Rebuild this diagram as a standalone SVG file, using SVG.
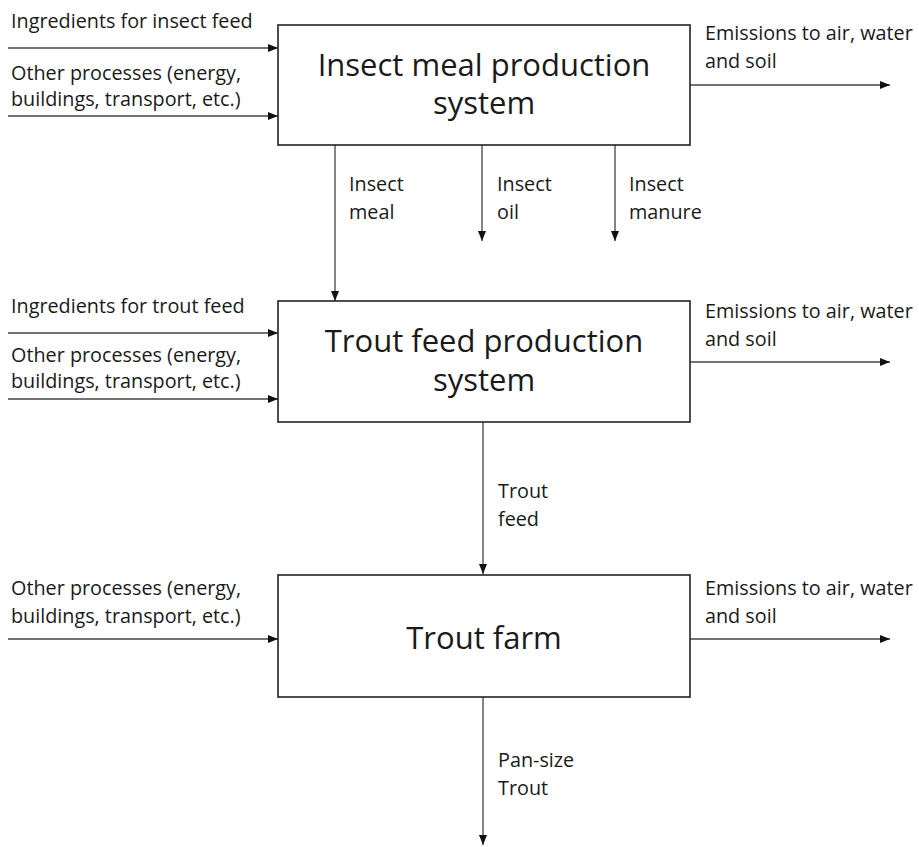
<svg xmlns="http://www.w3.org/2000/svg" width="919" height="847" viewBox="0 0 919 847">
<defs>
<marker id="ah" viewBox="0 0 10 8" refX="10" refY="4" markerWidth="10" markerHeight="8" markerUnits="userSpaceOnUse" orient="auto">
<path d="M0,0 L10,4 L0,8 Z" fill="#111"/>
</marker>
<style>
text{font-family:"Open Sans","Liberation Sans",sans-serif;fill:#1a1a1a}
.s{font-size:19.8px}
.t{font-size:31px;text-anchor:middle}
.box{fill:#fff;stroke:#222;stroke-width:1.6}
.c line{stroke:#444;stroke-width:1.3;marker-end:url(#ah)}
</style>
</defs>
<rect width="919" height="847" fill="#fff"/>
<g class="c" id="connectors">
<line x1="8" y1="48" x2="278" y2="48"/>
<line x1="8" y1="116" x2="278" y2="116"/>
<line x1="690" y1="85" x2="890" y2="85"/>
<line x1="335" y1="145" x2="335" y2="301"/>
<line x1="482" y1="145" x2="482" y2="241"/>
<line x1="615" y1="145" x2="615" y2="241"/>
<line x1="8" y1="333" x2="278" y2="333"/>
<line x1="8" y1="399" x2="278" y2="399"/>
<line x1="690" y1="362" x2="890" y2="362"/>
<line x1="483" y1="422" x2="483" y2="574"/>
<line x1="8" y1="639" x2="278" y2="639"/>
<line x1="690" y1="639" x2="890" y2="639"/>
<line x1="483" y1="697" x2="483" y2="845"/>
</g>
<g id="insect-meal-system">
<rect class="box" x="278" y="25" width="412" height="120"/>
<text class="t" x="484" y="76">Insect meal production</text>
<text class="t" x="484" y="114">system</text>
</g>
<g id="trout-feed-system">
<rect class="box" x="278" y="301" width="412" height="121"/>
<text class="t" x="484" y="352">Trout feed production</text>
<text class="t" x="484" y="391">system</text>
</g>
<g id="trout-farm">
<rect class="box" x="278" y="575" width="412" height="122"/>
<text class="t" x="484" y="649">Trout farm</text>
</g>
<g id="labels">
<text class="s" x="11" y="28">Ingredients for insect feed</text>
<text class="s" x="11" y="80">Other processes (energy,</text>
<text class="s" x="11" y="106">buildings, transport, etc.)</text>
<text class="s" x="705" y="40">Emissions to air, water</text>
<text class="s" x="705" y="68">and soil</text>
<text class="s" x="349" y="191">Insect</text>
<text class="s" x="349" y="219">meal</text>
<text class="s" x="497" y="191">Insect</text>
<text class="s" x="497" y="219">oil</text>
<text class="s" x="629" y="191">Insect</text>
<text class="s" x="629" y="219">manure</text>
<text class="s" x="11" y="313">Ingredients for trout feed</text>
<text class="s" x="11" y="362">Other processes (energy,</text>
<text class="s" x="11" y="388">buildings, transport, etc.)</text>
<text class="s" x="705" y="318">Emissions to air, water</text>
<text class="s" x="705" y="346">and soil</text>
<text class="s" x="498" y="498">Trout</text>
<text class="s" x="498" y="526">feed</text>
<text class="s" x="11" y="595">Other processes (energy,</text>
<text class="s" x="11" y="623">buildings, transport, etc.)</text>
<text class="s" x="705" y="595">Emissions to air, water</text>
<text class="s" x="705" y="623">and soil</text>
<text class="s" x="498" y="767">Pan-size</text>
<text class="s" x="498" y="795">Trout</text>
</g>
</svg>
